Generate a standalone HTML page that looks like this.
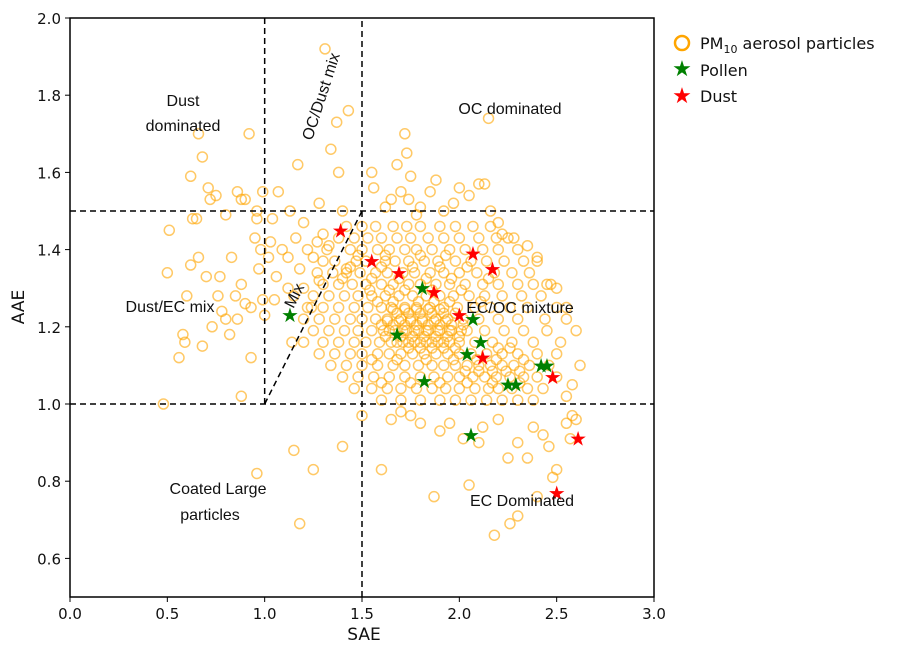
<!DOCTYPE html>
<html><head><meta charset="utf-8"><style>
body{margin:0;background:#fff;}
svg{display:block;font-family:"DejaVu Sans","Liberation Sans",sans-serif;}
</style></head><body>
<svg id="chart" width="904" height="651">
<g id="pts"></g>
<g id="lines"></g>
<g id="stars"></g>
<g id="axes"></g>
<g font-family="'Liberation Sans',sans-serif" font-size="16" fill="#111" text-anchor="middle">
<text x="183" y="106">Dust</text>
<text x="183" y="131">dominated</text>
<text transform="translate(326,98) rotate(-72)">OC/Dust mix</text>
<text x="510" y="114">OC dominated</text>
<text x="170" y="312">Dust/EC mix</text>
<text transform="translate(299,298) rotate(-63)">Mix</text>
<text x="520" y="313">EC/OC mixture</text>
<text x="218" y="494">Coated Large</text>
<text x="210" y="520">particles</text>
<text x="522" y="506">EC Dominated</text>
</g>
<g font-size="16" fill="#111">
<circle cx="682" cy="43" r="7" fill="none" stroke="#FFA500" stroke-width="2.5"/>
<text x="700" y="49">PM<tspan font-size="11" dy="4">10</tspan><tspan dy="-4"> aerosol particles</tspan></text>
<text x="682" y="76" text-anchor="middle" font-size="22" fill="green">★</text>
<text x="700" y="76">Pollen</text>
<text x="682" y="103" text-anchor="middle" font-size="22" fill="red">★</text>
<text x="700" y="102">Dust</text>
</g>
</svg>
<script>
const xTicks=[0.0,0.5,1.0,1.5,2.0,2.5,3.0];
const yTicks=[0.6,0.8,1.0,1.2,1.4,1.6,1.8,2.0];
const outliers=[[0.48,1.0],[0.5,1.34],[0.51,1.45],[0.56,1.12],[0.58,1.18],[0.59,1.16],[0.6,1.28],[0.62,1.36],[0.62,1.59],[0.63,1.48],[0.65,1.48],[0.66,1.7],[0.66,1.38],[0.68,1.64],[0.68,1.15],[0.7,1.33],[0.71,1.56],[0.72,1.53],[0.73,1.2],[0.75,1.54],[0.76,1.28],[0.77,1.33],[0.78,1.24],[0.8,1.22],[0.8,1.49],[0.82,1.18],[0.83,1.38],[0.85,1.28],[0.86,1.55],[0.86,1.22],[0.88,1.53],[0.88,1.31],[0.88,1.02],[0.9,1.26],[0.9,1.53],[0.92,1.7],[0.93,1.12],[0.93,1.25],[0.95,1.43],[0.96,1.5],[0.97,1.35],[0.98,1.4],[0.99,1.27],[1.0,1.23],[0.96,1.48],[0.99,1.55],[1.02,1.38],[1.03,1.42],[1.04,1.48],[1.05,1.27],[1.06,1.33],[1.07,1.55],[1.09,1.4],[1.12,1.3],[1.12,1.38],[1.13,1.5],[1.14,1.16],[1.15,1.28],[1.17,1.62],[1.16,1.43],[1.18,1.35],[1.2,1.47],[1.2,1.3],[1.22,1.4],[1.24,1.25],[1.25,1.38],[1.27,1.42],[1.28,1.52],[1.28,1.32],[1.3,1.44],[1.31,1.92],[1.33,1.41],[1.34,1.66],[1.37,1.73],[1.38,1.6],[1.43,1.76],[1.4,1.5],[1.42,1.35],
[0.96,0.82],[1.15,0.88],[1.25,0.83],[1.18,0.69],[1.4,0.89],[1.5,0.97],[1.6,0.83],[1.87,0.76],[2.05,0.79],[2.18,0.66],[2.26,0.69],[2.3,0.71],[2.4,0.76],[2.48,0.81],[2.5,0.83],[2.55,0.95],[2.58,0.97],[2.57,0.91],[2.6,0.96],[2.46,0.89],[2.43,0.92],[2.35,0.86],[2.3,0.9],[2.25,0.86],[2.2,0.96],[2.1,0.9],[2.02,0.91],[1.95,0.95],[1.9,0.93],[1.8,0.95],[1.75,0.97],[1.7,0.98],[1.65,0.96],[2.12,0.94],[2.38,0.94],
[1.55,1.6],[1.56,1.56],[1.62,1.51],[1.65,1.53],[1.68,1.62],[1.7,1.55],[1.72,1.7],[1.73,1.65],[1.74,1.53],[1.75,1.59],[1.78,1.49],[1.8,1.51],[1.85,1.55],[1.88,1.58],[1.92,1.5],[1.97,1.52],[2.0,1.56],[2.05,1.54],[2.1,1.57],[2.13,1.57],[2.15,1.74],[2.16,1.5],[2.2,1.47],[2.22,1.44],[2.28,1.43],[2.35,1.41],[2.4,1.38],[2.45,1.31],[2.5,1.3],[2.55,1.25],[2.6,1.19],[2.62,1.1],[2.58,1.05],[2.55,1.02]];
const rowY=[1.46,1.43,1.40,1.37,1.34,1.31,1.28,1.25,1.22,1.19,1.16,1.13,1.10,1.07,1.04,1.01,1.205,1.175,1.235,1.085,1.145,1.265,1.295,1.115,1.055,1.325,1.355,1.385,1.19,1.215,1.16,1.245];
const rowX=[
[1.42,1.5,1.57,1.66,1.73,1.8,1.9,1.98,2.07,2.16],
[1.38,1.46,1.53,1.6,1.68,1.75,1.84,1.92,2.0,2.1,2.19,2.25],
[1.32,1.44,1.5,1.58,1.64,1.72,1.78,1.86,1.95,2.03,2.12,2.2,2.3],
[1.3,1.36,1.47,1.52,1.62,1.67,1.74,1.82,1.89,1.98,2.06,2.14,2.23,2.33,2.4],
[1.27,1.35,1.42,1.49,1.57,1.63,1.71,1.77,1.85,1.92,2.0,2.09,2.18,2.27,2.36],
[1.3,1.38,1.45,1.52,1.6,1.66,1.74,1.8,1.88,1.95,2.03,2.12,2.2,2.3,2.38,2.47],
[1.25,1.33,1.41,1.48,1.55,1.62,1.69,1.76,1.83,1.9,1.97,2.05,2.13,2.22,2.32,2.42],
[1.22,1.3,1.38,1.46,1.53,1.6,1.65,1.72,1.78,1.85,1.92,1.99,2.08,2.16,2.26,2.35,2.5],
[1.2,1.28,1.36,1.44,1.5,1.57,1.63,1.7,1.75,1.81,1.88,1.94,2.02,2.1,2.2,2.3,2.44,2.55],
[1.25,1.33,1.41,1.48,1.55,1.61,1.67,1.73,1.79,1.84,1.9,1.96,2.04,2.13,2.23,2.33,2.45],
[1.2,1.3,1.38,1.46,1.52,1.59,1.65,1.71,1.77,1.83,1.89,1.95,2.0,2.08,2.17,2.27,2.38,2.52],
[1.28,1.36,1.44,1.5,1.58,1.64,1.7,1.76,1.82,1.88,1.94,2.0,2.06,2.14,2.22,2.3,2.4,2.5],
[1.34,1.42,1.5,1.58,1.66,1.72,1.79,1.86,1.92,1.98,2.04,2.1,2.16,2.22,2.28,2.36,2.46],
[1.4,1.48,1.56,1.64,1.72,1.8,1.87,1.94,2.0,2.07,2.13,2.19,2.26,2.33,2.4,2.5],
[1.46,1.55,1.63,1.7,1.78,1.86,1.93,2.0,2.08,2.15,2.2,2.27,2.35,2.43],
[1.6,1.7,1.8,1.9,1.98,2.06,2.14,2.22,2.3,2.38],
[1.6,1.66,1.72,1.78,1.84,1.9,1.96,2.02],
[1.62,1.7,1.76,1.82,1.88,1.94,2.0],
[1.68,1.74,1.8,1.86,1.92,1.98],
[2.03,2.1,2.17,2.24,2.31],
[1.74,1.8,1.86,1.92,1.98,2.2,2.26],
[1.58,1.66,1.79,1.87,1.95,2.11],
[1.54,1.64,1.72,1.86,2.01],
[1.55,1.68,1.83,1.97,2.09,2.19,2.33],
[1.6,1.75,1.9,2.04,2.17,2.31],
[1.4,1.55,1.69,1.83,1.96,2.15],
[1.44,1.6,1.76,1.9,2.04],
[1.48,1.62,1.8,1.93],
[1.64,1.71,1.77,1.83,1.89,1.95,2.01],
[1.63,1.69,1.75,1.81,1.87,1.93],
[1.68,1.74,1.8,1.86,1.92],
[1.66,1.72,1.78,1.84,1.9]];
const pollen=[[1.13,1.23],[1.68,1.18],[1.81,1.30],[1.82,1.06],[2.04,1.13],[2.07,1.22],[2.11,1.16],[2.06,0.92],[2.25,1.05],[2.29,1.05],[2.42,1.10],[2.45,1.10]];
const dust=[[1.39,1.45],[1.55,1.37],[1.69,1.34],[1.87,1.29],[2.00,1.23],[2.07,1.39],[2.17,1.35],[2.12,1.12],[2.48,1.07],[2.61,0.91],[2.50,0.77]];

const X0=70,X1=654,Y0=597,Y1=18;
const sx=v=>X0+(v-0)/(3-0)*(X1-X0);
const sy=v=>Y0-(v-0.5)/(2.0-0.5)*(Y0-Y1);
const NS='http://www.w3.org/2000/svg';
function mk(t,a,p){const e=document.createElementNS(NS,t);for(const k in a)e.setAttribute(k,a[k]);p.appendChild(e);return e;}
const gp=document.getElementById('pts');
const all=outliers.slice();
rowY.forEach((y,i)=>rowX[i].forEach(x=>all.push([x,y])));
all.forEach(p=>{
 const c=mk('circle',{cx:sx(p[0]),cy:sy(p[1]),r:5,fill:'none',stroke:'#FFA500','stroke-opacity':0.6,'stroke-width':1.5},gp);
 
 
});
const gl=document.getElementById('lines');
const dl=(x1,y1,x2,y2,n)=>{const l=mk('line',{x1:sx(x1),y1:sy(y1),x2:sx(x2),y2:sy(y2),stroke:'#000','stroke-width':1.5,'stroke-dasharray':'6,4'},gl);
 
 };
dl(0,1.5,3,1.5,'line-aae-1.5');dl(0,1.0,3,1.0,'line-aae-1.0');
dl(1.0,1.0,1.0,2.0,'line-sae-1.0');dl(1.5,0.5,1.5,2.0,'line-sae-1.5');
dl(1.0,1.0,1.5,1.5,'line-mix-diagonal');
const gs=document.getElementById('stars');
function star(p,col,n){const t=mk('text',{x:sx(p[0]),y:sy(p[1])+7,'text-anchor':'middle','font-size':20,fill:col},gs);t.textContent='★';
 
 }
pollen.forEach(p=>star(p,'green','pollen-star'));
dust.forEach(p=>star(p,'red','dust-star'));
const ga=document.getElementById('axes');
const fr=mk('rect',{x:X0,y:Y1,width:X1-X0,height:Y0-Y1,fill:'none',stroke:'#000','stroke-width':1.5},ga);


xTicks.forEach(v=>{mk('line',{x1:sx(v),x2:sx(v),y1:Y0,y2:Y0+5,stroke:'#000'},ga);
 const t=mk('text',{x:sx(v),y:Y0+22,'text-anchor':'middle','font-size':15,fill:'#111'},ga);t.textContent=v.toFixed(1);
 
 });
yTicks.forEach(v=>{mk('line',{x1:X0-5,x2:X0,y1:sy(v),y2:sy(v),stroke:'#000'},ga);
 const t=mk('text',{x:X0-9,y:sy(v)+6,'text-anchor':'end','font-size':15,fill:'#111'},ga);t.textContent=v.toFixed(1);
 
 });
const xt=mk('text',{x:364,y:640,'text-anchor':'middle','font-size':17,fill:'#111'},ga);xt.textContent='SAE';


const yt=mk('text',{transform:'translate(24,307) rotate(-90)','text-anchor':'middle','font-size':17,fill:'#111'},ga);yt.textContent='AAE';


</script>
</body></html>
